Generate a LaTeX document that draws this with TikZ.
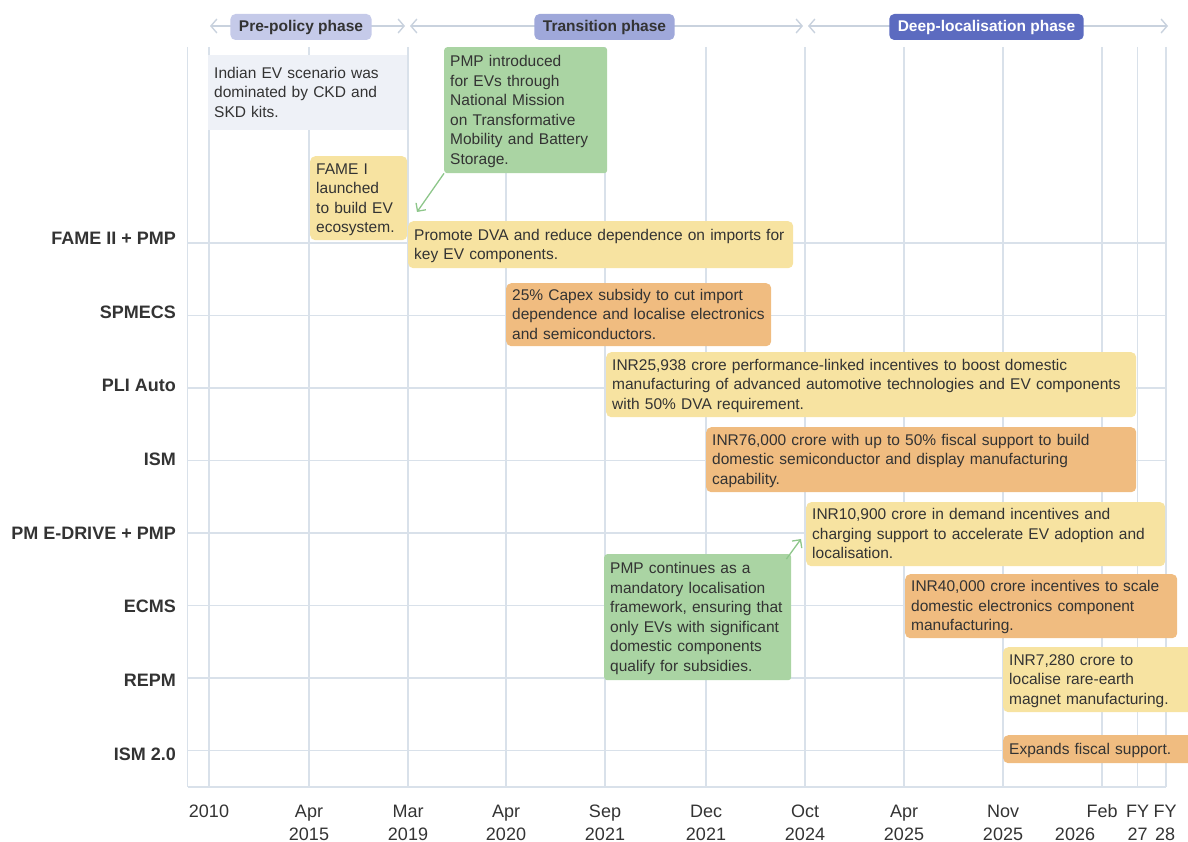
\documentclass[tikz,border=0pt]{standalone}
\usepackage{fontspec}
\setmainfont{Liberation Sans}
\usetikzlibrary{arrows.meta}

\definecolor{gridline}{HTML}{D9E1EA}
\definecolor{txt}{HTML}{333333}
\definecolor{yellowbox}{HTML}{F7E3A1}
\definecolor{orangebox}{HTML}{F0BC80}
\definecolor{greenbox}{HTML}{AAD4A3}
\definecolor{greybox}{HTML}{EEF1F7}
\definecolor{phaseA}{HTML}{C5CAE9}
\definecolor{phaseB}{HTML}{9FA8DA}
\definecolor{phaseC}{HTML}{5C6BC0}
\definecolor{phaseline}{HTML}{C9D2DE}
\definecolor{greenline}{HTML}{8DC68A}

\newcommand{\boxfont}{\fontsize{15.5}{19.5}\selectfont}
\newcommand{\bstrut}{\rule[-4.5pt]{0pt}{19.5pt}}

\tikzset{
  grid/.style={draw=gridline, line width=1.6pt},
  policy/.style={rectangle, rounded corners=5pt, anchor=north west, align=left,
    inner xsep=6pt, inner ysep=0pt, font=\boxfont, text=txt,
    execute at begin node=\bstrut, execute at end node=\bstrut},
  phase/.style={rectangle, rounded corners=5pt, minimum height=26pt, inner xsep=8.5pt,
    font=\bfseries\fontsize{15.5}{18}\selectfont, text=txt},
  phasearr/.style={draw=phaseline, line width=1.4pt,
    {Straight Barb[length=6pt,width=14pt]}-{Straight Barb[length=6pt,width=14pt]}},
  greenarr/.style={draw=greenline, line width=1.3pt, -{Straight Barb[length=6pt,width=12pt]}},
  rowlbl/.style={font=\bfseries\fontsize{18}{20}\selectfont, text=txt, inner sep=0pt, anchor=base east},
  datelbl/.style={font=\fontsize{18}{20}\selectfont, text=txt, inner sep=0pt, anchor=base}
}

\begin{document}
\begin{tikzpicture}[x=1pt,y=-1pt]
      \useasboundingbox (0,0) rectangle (1188,842);
      \clip (0,0) rectangle (1188,842);

      % grid
      \foreach \x in {209,309,408,506,605,706,805,904,1003,1102,1137.5,1166}
        \draw[grid] (\x,47) -- (\x,787);
      \draw[grid] (187.5,47) -- (187.5,787);
      \foreach \y in {243,315.5,388,460.5,533,605.5,678,750.5,787}
        \draw[grid] (187.5,\y) -- (1166,\y);

      % rows
      \foreach \name [count=\i] in {FAME II + PMP, SPMECS, PLI Auto, ISM,
          PM E-DRIVE + PMP, ECMS, REPM, ISM 2.0}
        \node[rowlbl] (row\i) at (176,{244.5+73.67*(\i-1)}) {\name};

      % dates
      \node[datelbl] (d2010) at (209,817) {2010};
      \foreach \x/\mon/\yr [count=\i] in {309/Apr/2015, 408/Mar/2019, 506/Apr/2020,
          605/Sep/2021, 706/Dec/2021, 805/Oct/2024, 904/Apr/2025, 1003/Nov/2025} {
        \node[datelbl] (mon\i) at (\x,817) {\mon};
        \node[datelbl] (yr\i) at (\x,840) {\yr};
      }
      \node[datelbl] (monfeb) at (1102,817) {Feb};
      \node[datelbl] (yrfeb) at (1075,840) {2026};
      \node[datelbl] (monfy27) at (1137.5,817) {FY};
      \node[datelbl] (yrfy27) at (1137.5,840) {27};
      \node[datelbl] (monfy28) at (1165,817) {FY};
      \node[datelbl] (yrfy28) at (1165,840) {28};

      % phases
      \coordinate (preL) at (210,26);
      \coordinate (preR) at (405,26);
      \coordinate (trL) at (410,26);
      \coordinate (trR) at (803,26);
      \coordinate (deepL) at (808,26);
      \coordinate (deepR) at (1168,26);
      \draw[phasearr] (preL) -- (preR);
      \draw[phasearr] (trL) -- (trR);
      \draw[phasearr] (deepL) -- (deepR);
      \node[phase, fill=phaseA] (pre) at (301,27) {Pre-policy phase};
      \node[phase, fill=phaseB] (trans) at (604.5,27) {Transition phase};
      \node[phase, fill=phaseC, text=white] (deep) at (986.5,27) {Deep-localisation phase};

      % policy boxes
      \node[policy, rounded corners=0pt, fill=greybox, text width=187pt, minimum height=75pt] (ckd) at (208,55)
        {Indian EV scenario was\\dominated by CKD and\\SKD kits.};
      \node[policy, fill=yellowbox, text width=85pt, minimum height=84pt] (fame1) at (310,156)
        {FAME I\\launched\\to build EV\\ecosystem.};
      \node[policy, rounded corners=3pt, fill=greenbox, text width=151pt, minimum height=126pt] (pmp) at (444,47)
        {PMP introduced\\for EVs through\\National Mission\\on Transformative\\Mobility and Battery\\Storage.};
      \node[policy, fill=yellowbox, text width=373pt, minimum height=47pt] (fame2) at (408,221)
        {Promote DVA and reduce dependence on imports for\\key EV components.};
      \node[policy, fill=orangebox, text width=253pt, minimum height=63pt] (spmecs) at (506,283)
        {25\% Capex subsidy to cut import\\dependence and localise electronics\\and semiconductors.};
      \node[policy, fill=yellowbox, text width=518pt, minimum height=65pt] (pli) at (606,352)
        {INR25,938 crore performance-linked incentives to boost domestic\\manufacturing of advanced automotive technologies and EV components\\with 50\% DVA requirement.};
      \node[policy, fill=orangebox, text width=418pt, minimum height=65pt] (ism) at (706,427)
        {INR76,000 crore with up to 50\% fiscal support to build\\domestic semiconductor and display manufacturing\\capability.};
      \node[policy, fill=yellowbox, text width=347pt, minimum height=64pt] (edrive) at (806,502)
        {INR10,900 crore in demand incentives and\\charging support to accelerate EV adoption and\\localisation.};
      \node[policy, rounded corners=3pt, fill=greenbox, text width=175pt, minimum height=126pt] (pmpc) at (604,554)
        {PMP continues as a\\mandatory localisation\\framework, ensuring that\\only EVs with significant\\domestic components\\qualify for subsidies.};
      \node[policy, fill=orangebox, text width=260pt, minimum height=64pt] (ecms) at (905,574)
        {INR40,000 crore incentives to scale\\domestic electronics component\\manufacturing.};
      \node[policy, fill=yellowbox, text width=190pt, minimum height=65pt] (repm) at (1003,647)
        {INR7,280 crore to\\localise rare-earth\\magnet manufacturing.};
      \node[policy, fill=orangebox, text width=190pt, minimum height=28pt] (ism2) at (1003,735)
        {Expands fiscal support.};

      % links
      \coordinate (famein) at (417,212);
      \coordinate (drivein) at (801,539);
      \draw[greenarr] (pmp.south west) -- (famein);
      \draw[greenarr] ([xshift=-5pt,yshift=-5pt]pmpc.north east) -- (drivein);
    \end{tikzpicture}
\end{document}
